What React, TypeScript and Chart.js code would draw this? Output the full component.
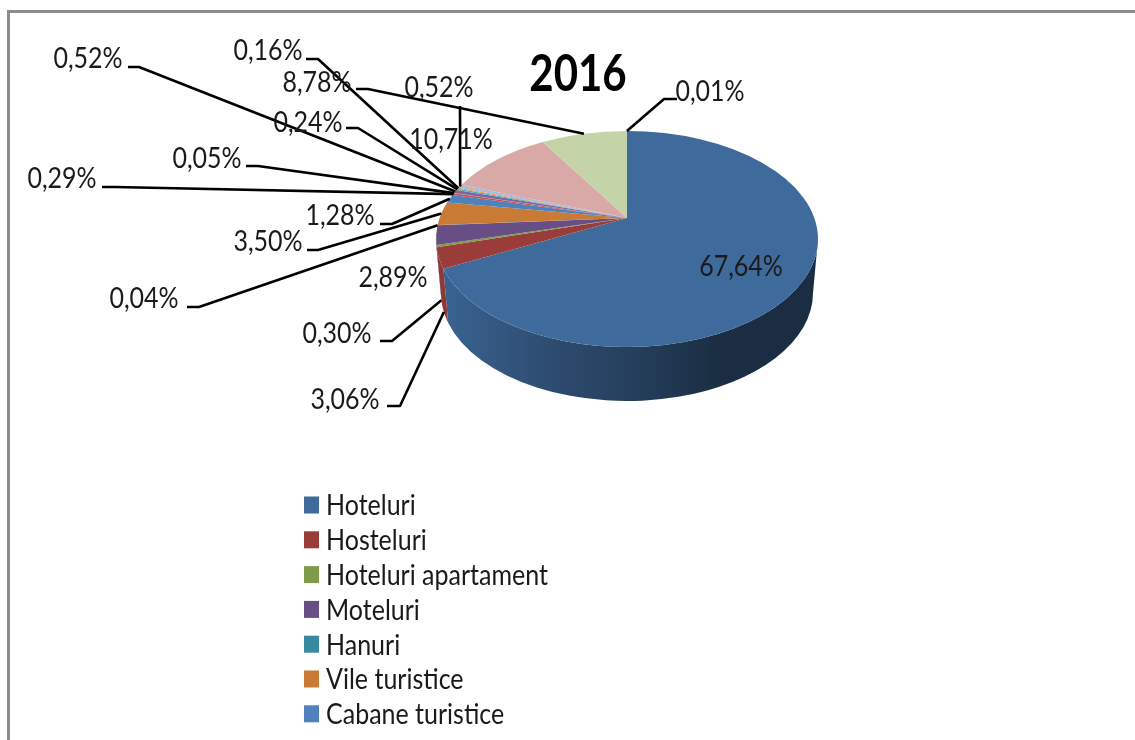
import React, { useEffect, useRef } from "react";
import { Chart, registerables } from "chart.js";

Chart.register(...registerables);

const title = "2016";
const categories = ["Hoteluri", "Hosteluri", "Hoteluri apartament", "Moteluri", "Hanuri", "Vile turistice", "Cabane turistice"];
const shares = [67.64, 3.06, 0.3, 2.89, 0.04, 3.5, 1.28, 0.29, 0.05, 0.52, 0.24, 0.16, 0.52, 10.71, 8.78, 0.01];
const sliceColors = ["#3F6A9C", "#9A3D3A", "#7F9A48", "#674F86", "#36899E", "#C97B35", "#4F81BD", "#C0504D", "#9BBB59", "#8064A2", "#4BACC6", "#F79646", "#A8BBD8", "#D9A9A8", "#C4D3A8", "#B4A7C7"];

// label centre x, centre y, leader stub start x, stub end x, stub y, leader ends on lower rim
const labelLayout: (number[] | null)[] = [
  [741, 267], [345, 400, 387, 400, 406, 1], [337, 334, 380, 392, 341, 1], [393, 278],
  [144, 299, 187, 199, 307, 0], [268, 242, 307, 318, 250, 0], [340, 216, 380, 392, 224, 0], [62, 179, 102, 115, 187, 0],
  [207, 159, 246, 258, 166, 0], [88, 59, 128, 139, 67, 0], [308, 123, 346, 358, 128, 0], [268, 51, 306, 318, 59, 0],
  [439, 88, 460, 460, 106, 0], [451, 140], [317, 83, 356, 368, 89, 0], [710, 92, 677, 664, 99, 0],
];

const FONT = "Lato";
const TILT = 108 / 191;
const PERSPECTIVE = -21 / 108;
const DEPTH = 54;
const LOWER_R = 186;

function shade(hex: string, f: number) {
  const n = parseInt(hex.slice(1), 16);
  return `rgb(${((n >> 16) & 255) * f},${((n >> 8) & 255) * f},${(n & 255) * f})`;
}

function drawText(ctx: CanvasRenderingContext2D, text: string, x: number, y: number, size: number, weight: string, color: string, align: CanvasTextAlign, sy: number) {
  ctx.save();
  ctx.translate(x, y);
  ctx.scale(1, sy);
  ctx.font = `${weight} ${size}px ${FONT}`;
  ctx.fillStyle = color;
  ctx.textAlign = align;
  ctx.textBaseline = "middle";
  ctx.fillText(text, 0, 0);
  ctx.restore();
}

const pie3d = {
  id: "pie3d",
  beforeDatasetsDraw(chart: any) {
    const ctx: CanvasRenderingContext2D = chart.ctx;
    const arcs = chart.getDatasetMeta(0).data;
    const { x: cx, y: cy, outerRadius: R } = arcs[0];
    const ry = R * TILT;
    const k = PERSPECTIVE;
    const project = (a: number) => {
      const t = a + Math.PI / 2;
      const c = Math.sin(t), s = -Math.cos(t), den = 1 + k * s;
      const X = (R * Math.sqrt(1 - k * k) * c) / den;
      const Y = (ry * (s + k)) / den;
      return { X, Y, phi: Math.atan2(Y / ry, X / R) };
    };

    // frame
    ctx.save();
    ctx.strokeStyle = "#8C8C8C";
    ctx.lineWidth = 3;
    ctx.beginPath();
    ctx.moveTo(8.5, 740);
    ctx.lineTo(8.5, 11.5);
    ctx.lineTo(1135, 11.5);
    ctx.stroke();

    // side walls
    arcs.forEach((el: any, i: number) => {
      let p1 = project(el.startAngle).phi;
      let p2 = project(el.endAngle).phi;
      if (p2 < p1) p2 += Math.PI * 2;
      const a = Math.max(p1, 0), b = Math.min(p2, Math.PI);
      if (b <= a) return;
      const g = ctx.createLinearGradient(cx - R, 0, cx + R, 0);
      const col = sliceColors[i];
      g.addColorStop(0, shade(col, 0.94));
      g.addColorStop(0.31, shade(col, 0.71));
      g.addColorStop(0.57, shade(col, 0.56));
      g.addColorStop(0.74, shade(col, 0.42));
      g.addColorStop(1, shade(col, 0.42));
      ctx.fillStyle = g;
      ctx.beginPath();
      ctx.ellipse(cx, cy, R, ry, 0, a, b, false);
      ctx.ellipse(cx, cy + DEPTH, LOWER_R, ry, 0, b, a, true);
      ctx.closePath();
      ctx.fill();
    });

    // top faces
    arcs.forEach((el: any, i: number) => {
      const p1 = project(el.startAngle).phi;
      const p2 = project(el.endAngle).phi;
      ctx.fillStyle = sliceColors[i];
      ctx.beginPath();
      ctx.moveTo(cx, cy + k * ry);
      ctx.ellipse(cx, cy, R, ry, 0, p1, p2, false);
      ctx.closePath();
      ctx.fill();
    });

    // leaders
    ctx.strokeStyle = "#000";
    ctx.lineWidth = 2.6;
    ctx.lineJoin = "round";
    arcs.forEach((el: any, i: number) => {
      const l = labelLayout[i];
      if (!l || l.length < 3) return;
      const m = project((el.startAngle + el.endAngle) / 2);
      const lower = l[5] === 1;
      const ex = lower ? cx + (m.X * LOWER_R) / R : cx + m.X;
      const ey = lower ? cy + DEPTH + m.Y : cy + m.Y;
      ctx.beginPath();
      ctx.moveTo(l[2], l[4]);
      ctx.lineTo(l[3], l[4]);
      ctx.lineTo(ex, ey);
      ctx.stroke();
    });

    // value labels
    shares.forEach((v, i) => {
      const l = labelLayout[i];
      if (!l) return;
      drawText(ctx, v.toFixed(2).replace(".", ",") + "%", l[0], l[1], 25, "400", "#1a1a1a", "center", 1.16);
    });

    // title
    drawText(ctx, title, 578, 74, 42, "700", "#000", "center", 1.25);

    // legend
    categories.forEach((name, i) => {
      const y = 505 + i * 34.8;
      ctx.fillStyle = sliceColors[i];
      ctx.fillRect(304, y - 8.5, 15, 17);
      drawText(ctx, name, 326, y + 1, 25, "400", "#1a1a1a", "left", 1.16);
    });
    ctx.restore();
    return false;
  },
};

export default function App() {
  const ref = useRef<HTMLCanvasElement>(null);
  useEffect(() => {
    const chart = new Chart(ref.current!, {
      type: "pie",
      data: { labels: categories, datasets: [{ data: shares, backgroundColor: sliceColors, borderWidth: 0 }] },
      options: {
        animation: false,
        responsive: false,
        layout: { padding: { left: 436, right: 317, top: 48, bottom: 310 } },
        plugins: { legend: { display: false }, tooltip: { enabled: false } },
      },
      plugins: [pie3d],
    } as any);
    return () => chart.destroy();
  }, []);
  return (
    <div style={{ position: "fixed", left: 0, top: 0, width: 1135, height: 740, overflow: "hidden", background: "#fff" }}>
      <canvas ref={ref} width={1135} height={740} style={{ display: "block", filter: "blur(0.6px)" }} />
    </div>
  );
}
